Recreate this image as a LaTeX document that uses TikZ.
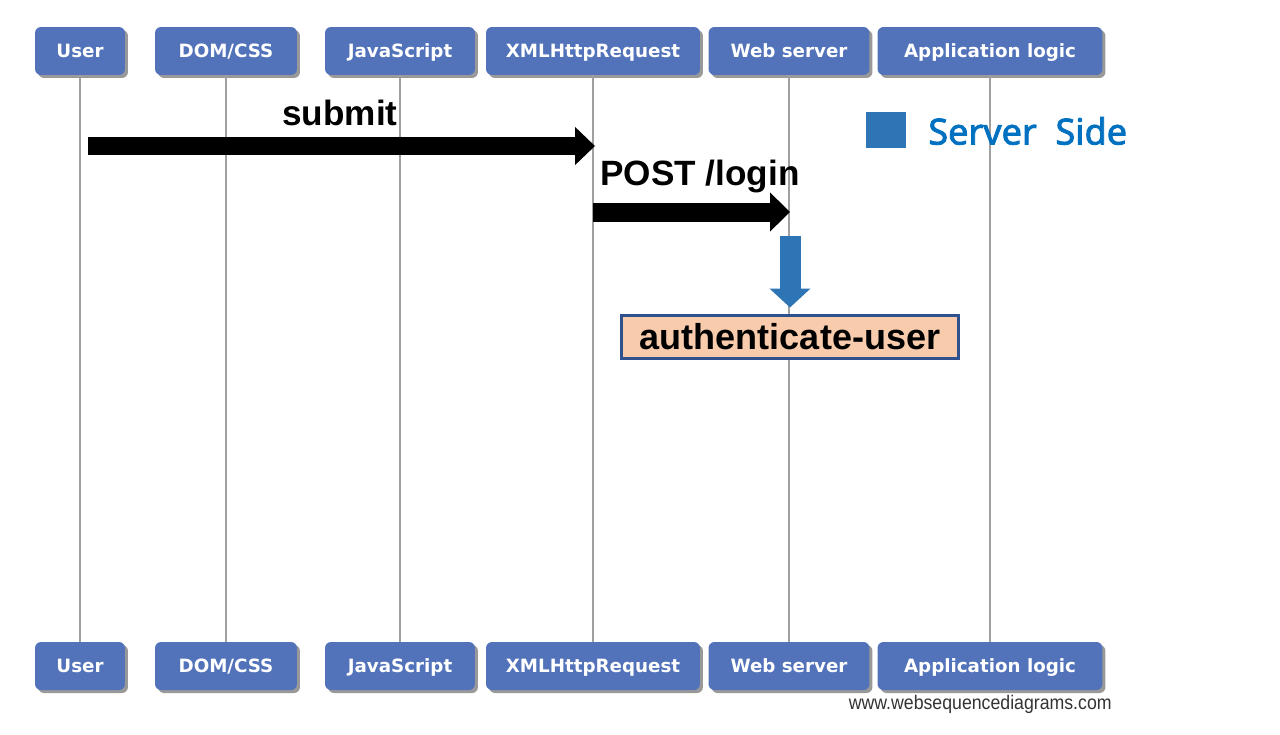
\documentclass[tikz,border=0pt]{standalone}
\usepackage{fontspec}
\setmainfont{Liberation Sans}
\newfontfamily\actorfont{DejaVu Sans}
\newfontfamily\legendfont[FakeBold=2.2]{Noto Sans}
\newfontfamily\creditfont[FakeStretch=0.9]{Liberation Sans}
\usetikzlibrary{arrows.meta,shadows}
\tikzset{>=stealth}

\definecolor{actorblue}{HTML}{5273BA}
\definecolor{lifegray}{HTML}{A0A0A0}
\definecolor{serverblue}{HTML}{2E75B6}
\definecolor{sidetext}{HTML}{0070C0}
\definecolor{authfill}{HTML}{F8CBAD}
\definecolor{authline}{HTML}{2F528F}

\tikzset{
  actor/.style={fill=actorblue, rounded corners=0.12cm, minimum height=0.96cm,
    inner sep=0pt, text height=7.6pt, text depth=0pt, text=white,
    font=\actorfont\bfseries\fontsize{10.4}{12}\selectfont,
    drop shadow={shadow xshift=0.06cm, shadow yshift=-0.06cm, opacity=0.4, fill=black}},
  lifeline/.style={draw=lifegray, line width=0.04cm},
  blockarrow/.style={line width=0.36cm, -{Triangle[length=0.4cm,width=0.74cm]}},
  msg/.style={font=\bfseries\fontsize{20}{24}\selectfont, inner sep=0pt}
}

\begin{document}
\begin{tikzpicture}[x=0.02cm,y=-0.02cm]
  \useasboundingbox (0,0) rectangle (1280,734);

  % participants, top row
  \node[actor, minimum width=1.80cm] at (80,51)   (user-top) {User};
  \node[actor, minimum width=2.84cm] at (226,51)  (dom-top)  {DOM/CSS};
  \node[actor, minimum width=3.00cm] at (400,51)  (js-top)   {JavaScript};
  \node[actor, minimum width=4.28cm] at (593,51)  (xhr-top)  {XMLHttpRequest};
  \node[actor, minimum width=3.22cm] at (789,51)  (web-top)  {Web server};
  \node[actor, minimum width=4.50cm] at (990,51)  (app-top)  {Application logic};

  % participants, bottom row
  \node[actor, minimum width=1.80cm] at (80,666)  (user-bot) {User};
  \node[actor, minimum width=2.84cm] at (226,666) (dom-bot)  {DOM/CSS};
  \node[actor, minimum width=3.00cm] at (400,666) (js-bot)   {JavaScript};
  \node[actor, minimum width=4.28cm] at (593,666) (xhr-bot)  {XMLHttpRequest};
  \node[actor, minimum width=3.22cm] at (789,666) (web-bot)  {Web server};
  \node[actor, minimum width=4.50cm] at (990,666) (app-bot)  {Application logic};

  % lifelines
  \draw[lifeline] (user-top) -- (user-bot);
  \draw[lifeline] (dom-top) -- (dom-bot);
  \draw[lifeline] (js-top) -- (js-bot);
  \draw[lifeline] (xhr-top) -- (xhr-bot);
  \draw[lifeline] (web-top) -- (web-bot);
  \draw[lifeline] (app-top) -- (app-bot);

  % messages
  \coordinate (submit-from) at (88,146);
  \coordinate (submit-to) at (595,146);
  \draw[blockarrow] (submit-from) -- (submit-to);
  \node[msg] at (340,113) (submit) {submit};

  \coordinate (post-from) at (593,212);
  \coordinate (post-to) at (790,212);
  \draw[blockarrow, line width=0.38cm, -{Triangle[length=0.4cm,width=0.76cm]}] (post-from) -- (post-to);
  \node[msg] at (700,176) (post) {POST /login};

  \node[draw=authline, line width=0.06cm, fill=authfill, minimum width=6.76cm,
    minimum height=0.86cm, inner sep=0pt, font=\bfseries\fontsize{20.5}{24}\selectfont]
    at (790,336.5) (auth) {authenticate-user};

  \coordinate (check-from) at (790,236);
  \draw[serverblue, line width=0.42cm, -{Triangle[length=0.38cm,width=0.80cm]},
    shorten >=0.12cm] (check-from) -- (auth.north);

  % legend
  \node[fill=serverblue, minimum width=0.80cm, minimum height=0.72cm, inner sep=0pt]
    at (886,130) (legend-box) {};
  \node[anchor=west, inner sep=0pt, text=sidetext, font=\legendfont\fontsize{20.5}{24}\selectfont]
    at (928,131) (legend-txt) {Server\ \ Side};

  \node[anchor=east, inner sep=0pt, text=black!80, font=\creditfont\fontsize{11.2}{13}\selectfont]
    at (1112,704) (credit) {www.websequencediagrams.com};

\end{tikzpicture}
\end{document}
